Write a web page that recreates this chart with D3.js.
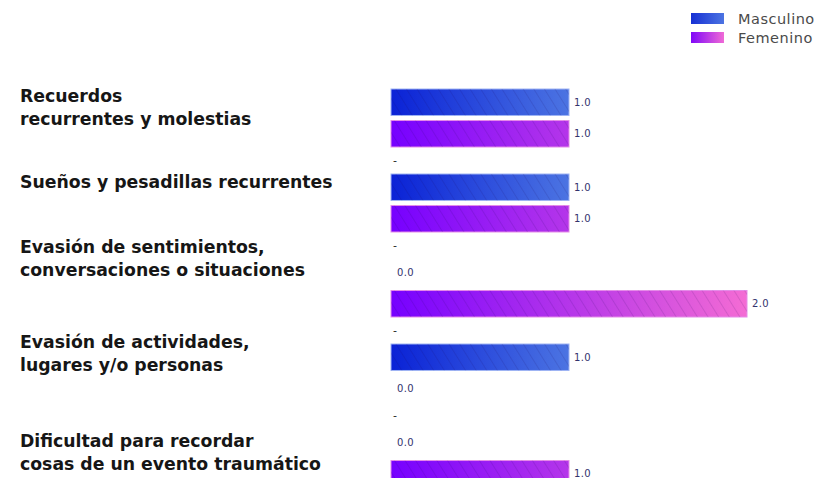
<!DOCTYPE html>
<html>
<head>
<meta charset="utf-8">
<script src="https://cdn.jsdelivr.net/npm/d3@7"></script>
<style>
  body { margin: 0; background: #fff; }
  svg { display: block; }
</style>
</head>
<body>
<div class="chart"></div>
<script>
// data
var categories = [
    "Recuerdos\nrecurrentes y molestias",
    "Sueños y pesadillas recurrentes",
    "Evasión de sentimientos,\nconversaciones o situaciones",
    "Evasión de actividades,\nlugares y/o personas",
    "Dificultad para recordar\ncosas de un evento traumático"
];
var series = ["Masculino", "Femenino"];
var masculino = [1, 1, 0, 1, 0];
var femenino = [1, 1, 2, 0, 1];

// layout (label block tops, per category)
var labelTop = [86, 172, 237, 332, 431];

var width = 823, height = 478;

var svg = d3.select(".chart").append("svg")
    .attr("width", width).attr("height", height);

var x = d3.scaleLinear().domain([0, 2]).range([391, 747]);
var yCat = d3.scaleBand().domain(d3.range(categories.length)).range([89, 89 + 85 * categories.length]);
var yRow = d3.scaleBand().domain(series).range([0, 58]).paddingInner(0.16);

var defs = svg.append("defs");

function grad(id, c0, c1, x1, x2) {
    var g = defs.append("linearGradient").attr("id", id)
        .attr("gradientUnits", "userSpaceOnUse")
        .attr("x1", x1).attr("x2", x2).attr("y1", 0).attr("y2", 0);
    g.append("stop").attr("offset", "0%").attr("stop-color", c0);
    g.append("stop").attr("offset", "100%").attr("stop-color", c1);
}
grad("g-m", "#0a22d6", "#4c74e2", x(0), x(1));
grad("g-f", "#7600ff", "#f46cd4", x(0), x(2));
grad("l-m", "#1630d4", "#4c74e2", 0, 33);
grad("l-f", "#8008f8", "#f06ad6", 0, 33);

var pat = defs.append("pattern").attr("id", "hatch")
    .attr("patternUnits", "userSpaceOnUse")
    .attr("width", 9).attr("height", 9)
    .attr("patternTransform", "rotate(-32)");
pat.append("line").attr("x1", 0).attr("y1", 0).attr("x2", 0).attr("y2", 9)
    .attr("stroke", "#1a0050").attr("stroke-opacity", 0.2).attr("stroke-width", 1.2);

var colors = { "Masculino": "url(#g-m)", "Femenino": "url(#g-f)" };
var edges = { "Masculino": "#9fb4f4", "Femenino": "#e58ce8" };

var rows = [];
categories.forEach(function(c, i) {
    rows.push({ cat: i, s: "Masculino", v: masculino[i] });
    rows.push({ cat: i, s: "Femenino", v: femenino[i] });
});

var g = svg.append("g");

// bars
var bars = g.selectAll(".bar").data(rows.filter(d => d.v > 0)).enter();
bars.append("rect")
    .attr("class", "bar")
    .attr("x", x(0))
    .attr("y", d => yCat(d.cat) + yRow(d.s))
    .attr("width", d => x(d.v) - x(0))
    .attr("height", yRow.bandwidth())
    .attr("fill", d => colors[d.s])
    .attr("stroke", d => edges[d.s])
    .attr("stroke-width", 1);
bars.append("rect")
    .attr("x", x(0))
    .attr("y", d => yCat(d.cat) + yRow(d.s))
    .attr("width", d => x(d.v) - x(0))
    .attr("height", yRow.bandwidth())
    .attr("fill", "url(#hatch)");

// value labels
g.selectAll(".val").data(rows).enter().append("text")
    .attr("class", "val")
    .attr("x", d => d.v > 0 ? x(d.v) + 5 : x(0) + 6)
    .attr("y", d => yCat(d.cat) + yRow(d.s) + yRow.bandwidth() / 2)
    .attr("dy", "0.35em")
    .style("font-family", "DejaVu Sans, sans-serif")
    .style("font-size", "10px")
    .style("letter-spacing", "0.4px")
    .style("fill", "#33336e")
    .text(d => d.v.toFixed(1));

// separator dashes
g.selectAll(".sep").data(categories.slice(0, categories.length - 1)).enter().append("text")
    .attr("class", "sep")
    .attr("x", x(0) + 2)
    .attr("y", (d, i) => yCat(i) + 71)
    .attr("dy", "0.35em")
    .style("font-family", "DejaVu Sans, sans-serif")
    .style("font-size", "11px")
    .style("fill", "#222")
    .text("-");

// category labels
g.selectAll(".cat").data(categories).enter().append("text")
    .attr("class", "cat")
    .attr("x", 20)
    .attr("y", (d, i) => labelTop[i])
    .style("font-family", "DejaVu Sans, sans-serif")
    .style("font-weight", 700)
    .style("font-size", "17.3px")
    .style("fill", "#161616")
    .each(function(d) {
        var t = d3.select(this);
        d.split("\n").forEach(function(line, k) {
            t.append("tspan").attr("x", 20).attr("dy", k == 0 ? "0.95em" : 23).text(line);
        });
    });

// legend
var leg = svg.append("g").selectAll(".leg").data(series).enter().append("g")
    .attr("transform", (d, i) => `translate(691,${13 + i * 19})`);
leg.append("rect").attr("width", 33).attr("height", 11)
    .attr("fill", (d, i) => i == 0 ? "url(#l-m)" : "url(#l-f)");
leg.append("text").attr("x", 47).attr("y", 6).attr("dy", "0.35em")
    .style("font-family", "DejaVu Sans, sans-serif")
    .style("font-size", "14.5px")
    .style("letter-spacing", "0.5px")
    .style("fill", "#4a4a4a")
    .text(d => d);
</script>
</body>
</html>
